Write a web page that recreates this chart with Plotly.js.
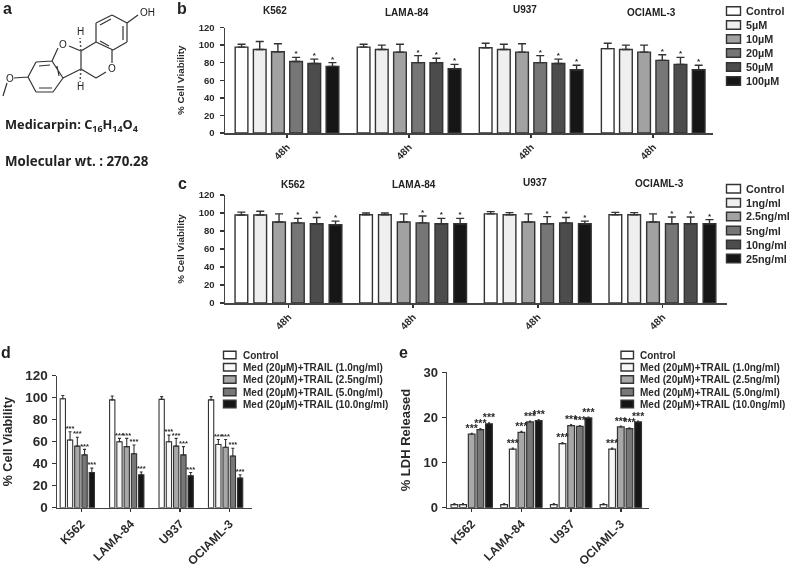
<!DOCTYPE html>
<html><head><meta charset="utf-8">
<script src="https://cdn.plot.ly/plotly-3.0.1.min.js"></script>
<style>html,body{margin:0;padding:0;background:#fff}#c{width:793px;height:569px;filter:blur(0.35px)}</style>
</head><body><div id="c"></div>
<script>
// ---------- data ----------
const cellLines = ["K562","LAMA-84","U937","OCIAML-3"];
const hourLabels = ["48h","48h","48h","48h"];

const bSeries = ["Control","5µM","10µM","20µM","50µM","100µM"];
const bK562 = [97.7,95,92.4,81.4,79,75.8];
const bLAMA = [97.7,95,92,80,80,73];
const bU937 = [97,95,92,80,79,72];
const bOCI  = [96,95,92,82.6,78,72];
const bK562Top = [101,104,101.5,86,84,80];
const bLAMATop = [101,100,101,88,85,78];
const bU937Top = [102,101,101.5,88,84,77];
const bOCITop  = [102,100,100,89,86,77];

const cSeries = ["Control","1ng/ml","2.5ng/ml","5ng/ml","10ng/ml","25ng/ml"];
const cK562 = [97.8,97.8,90,89,88,87];
const cLAMA = [98,98,90,89,88,88];
const cU937 = [99,98,90,88,89,88];
const cOCI  = [98,98,90,88,88,88];
const cK562Top = [101,102,99,94,95,91];
const cLAMATop = [100,100,99,96.7,94,94];
const cU937Top = [101.5,100.4,99,96,95,91];
const cOCITop  = [100.7,100.4,99,95.5,95.5,92.6];

const dSeries = ["Control","Med (20µM)+TRAIL (1.0ng/ml)","Med (20µM)+TRAIL (2.5ng/ml)","Med (20µM)+TRAIL (5.0ng/ml)","Med (20µM)+TRAIL (10.0ng/ml)"];
const dK562 = [99,61.5,56,48,32];
const dLAMA = [98,60,55.5,49,30];
const dU937 = [98.5,60,56,48,29];
const dOCI  = [98,57.5,55,47,27];
const dK562Top = [102,69,64,53,36];
const dLAMATop = [101.5,63,63,57,32.5];
const dU937Top = [101,66,63,55.5,32];
const dOCITop  = [101,62,62,54,30];

const eK562 = [0.7,0.7,16.3,17.3,18.6];
const eLAMA = [0.7,13,16.7,19,19.3];
const eU937 = [0.7,14.2,18.2,18,19.9];
const eOCI  = [0.7,13,17.9,17.5,19];

const greysSix = ["#ffffff","#efefef","#a2a2a2","#767676","#4c4c4c","#161616"];
const greysFive = ["#ffffff","#f8f8f8","#a8a8a8","#777777","#161616"];
const ink = "#2a2a2a";
const face = "Liberation Sans, Arial, sans-serif";

// ---------- helpers ----------
const W = 793, H = 569;
const px = x => x / W, py = y => 1 - y / H;
const box = (a, b) => [px(a), px(b)];
const boxY = (top, bot) => [py(bot), py(top)];

const traces = [], shapes = [], annotations = [];

function panel(suffix, names, colors, groups, tops, slot, width, stars, starSize, errW, lineW) {
  names.forEach((name, i) => {
    const xs = groups.map((_, g) => g + (i - (names.length - 1) / 2) * slot);
    const ys = groups.map(row => row[i]);
    const ts = tops ? tops.map(row => row[i]) : ys.map(v => v + 0.2);
    traces.push({
      type: "bar", name, x: xs, y: ys, width, xaxis: "x" + suffix, yaxis: "y" + suffix,
      marker: {color: colors[i], line: {color: "#333", width: lineW}},
      error_y: {type: "data", symmetric: false, array: ts.map((t, k) => t - ys[k]), arrayminus: ys.map(() => 0),
                color: "#333", thickness: lineW, width: errW},
      showlegend: false, cliponaxis: false
    });
    if (stars && stars[i]) {
      const keep = ys.map(v => v > 5);
      traces.push({
        type: "scatter", mode: "text", x: xs.filter((_, k) => keep[k]), y: ts.filter((_, k) => keep[k]).map(t => t + stars[i].lift),
        text: xs.filter((_, k) => keep[k]).map(() => stars[i].mark),
        textposition: "middle center", textfont: {family: face, size: starSize, color: ink, weight: 700},
        xaxis: "x" + suffix, yaxis: "y" + suffix, showlegend: false, hoverinfo: "skip", cliponaxis: false
      });
    }
  });
}

function xAxis(dom, range, anchor, labels, size, tickvals) {
  return {domain: dom, range, anchor, tickmode: "array", tickvals: tickvals || [0,1,2,3], ticktext: labels,
    tickangle: -45, ticks: "outside", ticklen: 3, tickwidth: 1.5, tickcolor: "#333", showline: true, linecolor: "#444", linewidth: 1.5,
    showgrid: false, zeroline: false, tickfont: {family: face, size, color: ink, weight: 700}};
}
function yAxis(dom, range, dtick, anchor, size, title, titleSize, standoff, labelGap) {
  return {domain: dom, range, dtick, anchor, ticks: "outside", ticklen: 4, tickwidth: 1.5, tickcolor: "#333", showline: true, linecolor: "#444", linewidth: 1.5,
    showgrid: false, zeroline: false, ticklabelstandoff: labelGap, tickfont: {family: face, size, color: ink, weight: 700},
    title: {text: title, standoff, font: {family: face, size: titleSize, color: ink, weight: 700}}};
}
function legendBlock(names, colors, left, swW, swH, textX, rows, size) {
  names.forEach((n, i) => {
    shapes.push({type: "rect", xref: "paper", yref: "paper", x0: px(left), x1: px(left + swW),
      y0: py(rows[i] + swH / 2), y1: py(rows[i] - swH / 2), fillcolor: colors[i], line: {color: "#333", width: 1.4}});
    annotations.push({xref: "paper", yref: "paper", x: px(textX), y: py(rows[i]), xanchor: "left", yanchor: "middle", showarrow: false,
      text: "<b>" + n + "</b>", font: {family: face, size, color: ink}});
  });
}
function label(text, x, y, size, family, anchor) {
  annotations.push({xref: "paper", yref: "paper", x: px(x), y: py(y), xanchor: anchor || "center", yanchor: "middle", showarrow: false,
    text, font: {family: family || face, size, color: "#222"}});
}

// ---------- panels ----------
const oneStar = {mark: "*", lift: 3.4};
const bStars = [null, null, null, oneStar, oneStar, oneStar];
const dMark = {mark: "***", lift: 2.5};
const dStars = [null, dMark, dMark, dMark, dMark];
const eMark = {mark: "***", lift: 0.9};
const eStars = [null, eMark, eMark, eMark, eMark];

panel("", bSeries, greysSix, [bK562,bLAMA,bU937,bOCI], [bK562Top,bLAMATop,bU937Top,bOCITop], 0.149, 0.104, bStars, 8, 4, 1.4);
panel("2", cSeries, greysSix, [cK562,cLAMA,cU937,cOCI], [cK562Top,cLAMATop,cU937Top,cOCITop], 0.151, 0.102, bStars, 8, 4, 1.4);
panel("3", dSeries, greysFive, [dK562,dLAMA,dU937,dOCI], [dK562Top,dLAMATop,dU937Top,dOCITop], 0.1468, 0.107, dStars, 7.5, 1.5, 1.1);
panel("4", dSeries, greysFive, [eK562,eLAMA,eU937,eOCI], null, 0.174, 0.135, eStars, 10.5, 1, 1.2);

const layout = {
  width: W, height: H, autosize: false, margin: {l:0,r:0,t:0,b:0,pad:0},
  paper_bgcolor: "#fff", plot_bgcolor: "rgba(0,0,0,0)", barmode: "overlay", showlegend: false, shapes, annotations,
  xaxis:  xAxis(box(225,713), [-0.508,3.49], "y", hourLabels, 10),
  yaxis:  yAxis(boxY(27.5,133), [0,120], 20, "x", 9.5, "% Cell Viability", 9.8, 12, 3),
  xaxis2: xAxis(box(225,727), [-0.509,3.518], "y2", hourLabels, 10),
  yaxis2: yAxis(boxY(195,303), [0,120], 20, "x2", 9.5, "% Cell Viability", 9.8, 12, 3),
  xaxis3: xAxis(box(57,252), [-0.411,3.534], "y3", cellLines, 12, [0.08,1.08,2.08,3.08]),
  yaxis3: yAxis(boxY(375.7,507.7), [0,120], 20, "x3", 13.5, "% Cell Viability", 12.6, 10, 1),
  xaxis4: xAxis(box(447,649), [-0.497,3.567], "y4", cellLines, 12),
  yaxis4: yAxis(boxY(372.3,507.7), [0,30], 10, "x4", 13, "% LDH Released", 13, 10, 1)
};

legendBlock(bSeries, greysSix, 726.5, 14, 8.5, 744, [11,25,39,53,67,81], 10.8);
legendBlock(cSeries, greysSix, 726.5, 14, 8.5, 744, [188.7,202.7,216.5,230.5,244.5,258.5], 10.8);
legendBlock(dSeries, greysFive, 223.5, 12.5, 7.5, 240.5, [355,367.3,379.5,392,404], 10);
legendBlock(dSeries, greysFive, 621, 12.5, 7.5, 637.5, [355,367.3,379.5,392,404], 10);

// titles above panel b and c
[[275,11],[407,12.5],[525,10],[651,12.5]].forEach((p,i) => label("<b>"+cellLines[i]+"</b>", p[0], p[1], 10));
[[293,184.7],[414,184.7],[535,182],[659,183]].forEach((p,i) => label("<b>"+cellLines[i]+"</b>", p[0], p[1], 10));

// panel letters
[["a",7,9],["b",182,9],["c",182,183],["d",6,352],["e",403,352]].forEach(l => label("<b>"+l[0]+"</b>", l[1], l[2], 16));

// panel a: molecule drawn as a path in pixel space
const bonds = [
 [[96,23],[112,15]],[[112,15],[127,23]],[[127,23],[127,42]],[[127,42],[113,50]],[[113,50],[96,42]],[[96,42],[96,23]],
 [[100,25],[111,19]],[[123,26],[123,40]],[[100,41],[109,46]],
 [[127,23],[138,15]],
 [[112,50],[112,63]],[[106,72],[96,78]],[[96,78],[81,69]],[[81,69],[81,51]],[[81,51],[96,42]],
 [[81,51],[69,46]],[[58,48],[52,61]],[[81,69],[63,78]],
 [[52,61],[36,62]],[[36,62],[28,77]],[[28,77],[36,92]],[[36,92],[53,92]],[[53,92],[63,78]],[[63,78],[52,61]],
 [[39,66],[50,65]],[[39,88],[52,88]],[[57,66],[59,76]],
 [[28,77],[14,78]],[[7,83],[3,96]]
];
const bondPath = bonds.map(b => "M"+px(b[0][0])+","+py(b[0][1])+"L"+px(b[1][0])+","+py(b[1][1])).join("");
shapes.push({type:"path", xref:"paper", yref:"paper", path: bondPath, line:{color:"#333", width:1.2}});
const hashes = [[[81,51],[80,38]],[[81,69],[80,82]]];
hashes.forEach(h => shapes.push({type:"line", xref:"paper", yref:"paper", x0:px(h[0][0]), y0:py(h[0][1]), x1:px(h[1][0]), y1:py(h[1][1]), line:{color:"#555", width:1.5, dash:"2px,2px"}}));
[["H",80,31],["H",80,86],["O",63,44],["O",112,68],["O",10,78],["OH",147,13]].forEach(a => label(a[0], a[1], a[2], 10));

const noteFace = "Open Sans, sans-serif";
label("<b>Medicarpin: C<sub>16</sub>H<sub>14</sub>O<sub>4</sub></b>", 3, 125, 12.8, noteFace, "left");
label("<b>Molecular wt. : 270.28</b>", 3, 161, 13.3, noteFace, "left");

Plotly.newPlot("c", traces, layout, {staticPlot: true, displayModeBar: false});
</script></body></html>
